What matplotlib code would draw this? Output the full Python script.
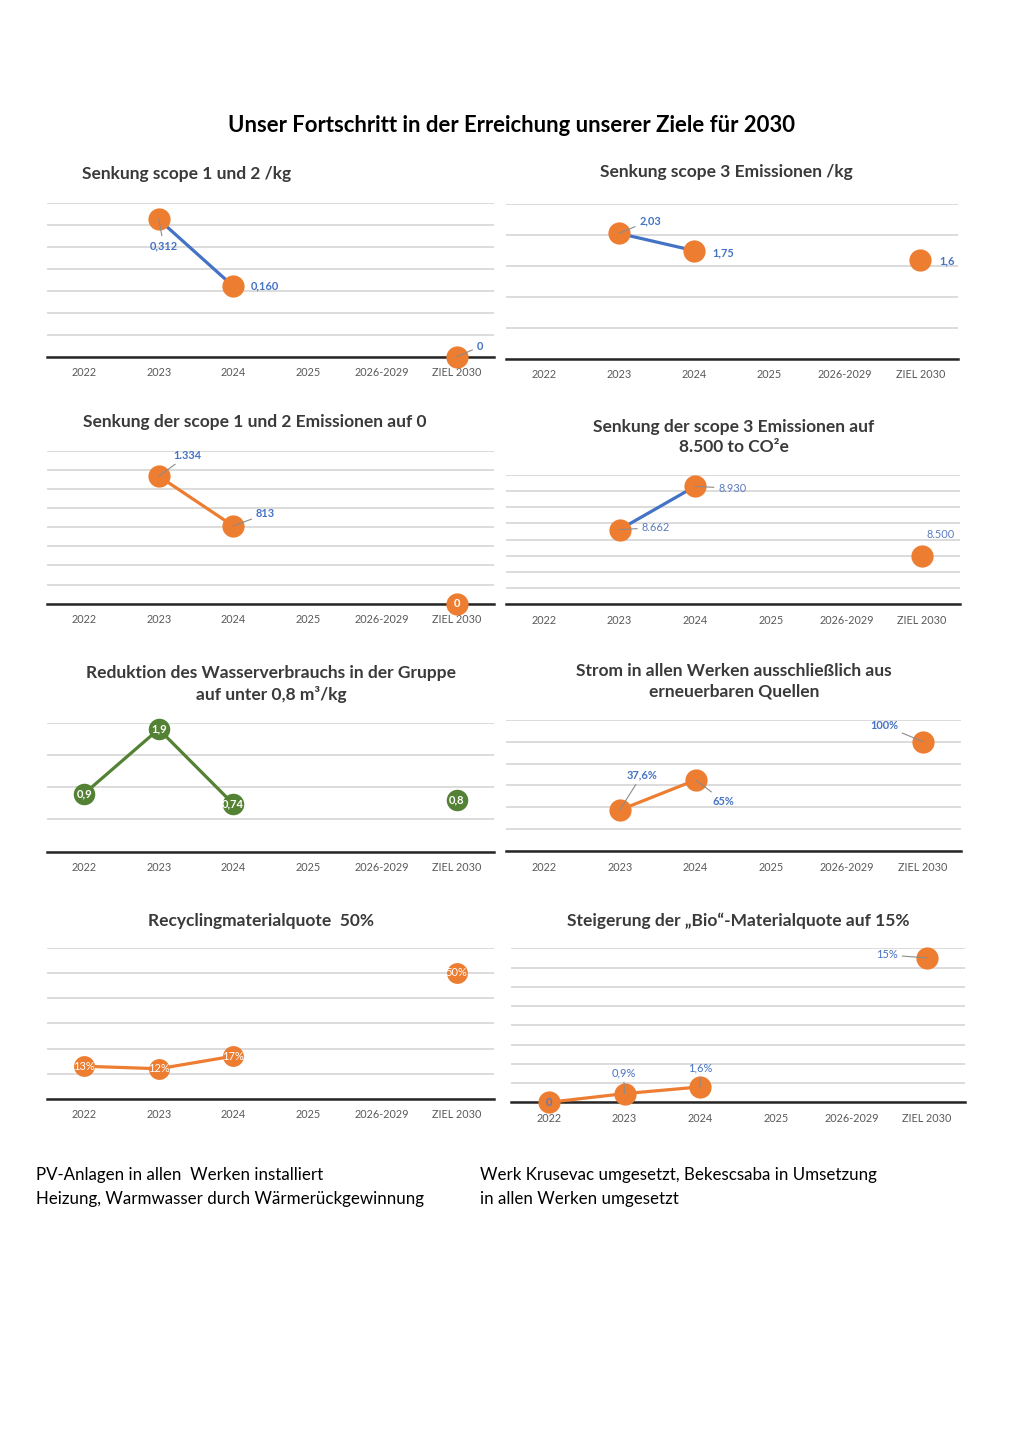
import matplotlib
matplotlib.use('Agg')
import matplotlib.pyplot as plt
import numpy as np

plt.rcParams['font.family'] = ['Lato', 'DejaVu Sans']

W, H = 1024, 1449
nan = np.nan

# ---------------- data ----------------
categories = ['2022', '2023', '2024', '2025', '2026-2029', 'ZIEL 2030']

scope12_kg = [nan, 0.312, 0.160, nan, nan, 0.0]
scope12_kg_labels = ['', '0,312', '0,160', '', '', '0']

scope3_kg = [nan, 2.03, 1.75, nan, nan, 1.6]
scope3_kg_labels = ['', '2,03', '1,75', '', '', '1,6']

scope12_abs = [nan, 1334, 813, nan, nan, 0]
scope12_abs_labels = ['', '1.334', '813', '', '', '0']

scope3_abs = [nan, 8662, 8930, nan, nan, 8500]
scope3_abs_labels = ['', '8.662', '8.930', '', '', '8.500']

water = [0.9, 1.9, 0.74, nan, nan, 0.8]
water_labels = ['0,9', '1,9', '0,74', '', '', '0,8']

green_power = [nan, 37.6, 65, nan, nan, 100]
green_power_labels = ['', '37,6%', '65%', '', '', '100%']

recycling = [13, 12, 17, nan, nan, 50]
recycling_labels = ['13%', '12%', '17%', '', '', '50%']

bio = [0, 0.9, 1.6, nan, nan, 15]
bio_labels = ['0', '0,9%', '1,6%', '', '', '15%']

main_title = 'Unser Fortschritt in der Erreichung unserer Ziele für 2030'
titles = [
    'Senkung scope 1 und 2 /kg',
    'Senkung scope 3 Emissionen /kg',
    'Senkung der scope 1 und 2 Emissionen auf 0',
    'Senkung der scope 3 Emissionen auf\n8.500 to CO²e',
    'Reduktion des Wasserverbrauchs in der Gruppe\nauf unter 0,8 m³/kg',
    'Strom in allen Werken ausschließlich aus\nerneuerbaren Quellen',
    'Recyclingmaterialquote  50%',
    'Steigerung der „Bio“-Materialquote auf 15%',
]
footer_left = ['PV-Anlagen in allen  Werken installiert',
               'Heizung, Warmwasser durch Wärmerückgewinnung']
footer_right = ['Werk Krusevac umgesetzt, Bekescsaba in Umsetzung',
                'in allen Werken umgesetzt']

# ---------------- styles ----------------
BLUE = '#4472C4'
ORANGE = '#ED7D31'
GREEN = '#548235'
GRID = '#D9D9D9'
TITLE_C = '#3A3A3A'
TICK_C = '#595959'
LEADER = '#8C8C8C'

fig = plt.figure(figsize=(W / 100, H / 100), dpi=100)
fig.patch.set_facecolor('white')

fig.text(512 / W, 1 - 125 / H, main_title, ha='center', va='center',
         fontsize=15.9, fontweight='bold', color='black')


def px_axes(x0, x1, ytop, ybase):
    return fig.add_axes([x0 / W, 1 - ybase / H, (x1 - x0) / W, (ybase - ytop) / H])


charts = [
    dict(v=scope12_kg, lab=scope12_kg_labels, box=(47, 494, 202.7, 356.7),
         ylim=(0, 0.35), step=0.05, lc=BLUE, mc=ORANGE, ms=16,
         offs={1: (5, -26, True), 2: (32, 0, False), 5: (23, 10, True)},
         inside={}, lstyle=dict(color=BLUE, fontweight='bold'),
         tpos=(187, 174)),
    dict(v=scope3_kg, lab=scope3_kg_labels, box=(506, 958, 204.3, 359),
         ylim=(0, 2.5), step=0.5, lc=BLUE, mc=ORANGE, ms=16,
         offs={1: (31, 13, True), 2: (29, -2, False), 5: (27, -1, False)},
         inside={}, lstyle=dict(color=BLUE, fontweight='bold'),
         tpos=(726, 172)),
    dict(v=scope12_abs, lab=scope12_abs_labels, box=(47, 494, 450.7, 603.7),
         ylim=(0, 1600), step=200, lc=ORANGE, mc=ORANGE, ms=16,
         offs={1: (29, 21, True), 2: (32, 12, True)},
         inside={5: ('white', 'bold')}, lstyle=dict(color=BLUE, fontweight='bold'),
         tpos=(255, 422)),
    dict(v=scope3_abs, lab=scope3_abs_labels, box=(506, 960, 475, 604.3),
         ylim=(8200, 9000), step=100, lc=BLUE, mc=ORANGE, ms=16,
         offs={1: (36, 2, True), 2: (37, -2, True), 5: (18, 21, False)},
         inside={}, lstyle=dict(color='#5B7BC0', fontweight='normal'),
         tpos=(734, 437)),
    dict(v=water, lab=water_labels, box=(47, 494, 722.7, 851.7),
         ylim=(0, 2.0), step=0.5, lc=GREEN, mc=GREEN, ms=15.5,
         offs={}, inside={0: ('white', 'bold'), 1: ('white', 'bold'),
                          2: ('white', 'bold'), 5: ('white', 'bold')},
         lstyle=dict(color=BLUE, fontweight='bold'),
         tpos=(271, 684)),
    dict(v=green_power, lab=green_power_labels, box=(506, 961, 719.7, 851.3),
         ylim=(0, 120), step=20, lc=ORANGE, mc=ORANGE, ms=16,
         offs={1: (22, 35, True), 2: (28, -21, True), 5: (-39, 16, True)},
         inside={}, lstyle=dict(color=BLUE, fontweight='bold'),
         tpos=(734, 681)),
    dict(v=recycling, lab=recycling_labels, box=(47, 494, 947.7, 1099),
         ylim=(0, 60), step=10, lc=ORANGE, mc=ORANGE, ms=15,
         offs={}, inside={0: ('white', 'normal'), 1: ('white', 'normal'),
                          2: ('white', 'normal'), 5: ('white', 'normal')},
         lstyle=dict(color=BLUE, fontweight='bold'),
         tpos=(261, 921)),
    dict(v=bio, lab=bio_labels, box=(511, 965, 948.3, 1102.3),
         ylim=(0, 16), step=2, lc=ORANGE, mc=ORANGE, ms=16,
         offs={1: (-1, 21, True), 2: (0, 19, True), 5: (-40, 3, True)},
         inside={0: ('#5B7BC0', 'bold')}, lstyle=dict(color=BLUE, fontweight='normal'),
         tpos=(738, 921)),
]

for ch, title in zip(charts, titles):
    ax = px_axes(*ch['box'])
    x = np.arange(len(categories))
    ymin, ymax = ch['ylim']
    ax.set_xlim(-0.5, len(categories) - 0.5)
    ax.set_ylim(ymin, ymax)
    ax.set_yticks(np.arange(ymin, ymax + ch['step'] / 2, ch['step']))
    ax.yaxis.grid(True, color=GRID, lw=1.3)
    ax.set_axisbelow(True)
    ax.tick_params(axis='y', length=0, labelleft=False)
    ax.set_xticks(x)
    ax.set_xticklabels(categories, fontsize=7.8, color=TICK_C)
    ax.tick_params(axis='x', length=0, pad=7.5)
    for s in ['left', 'right', 'top']:
        ax.spines[s].set_visible(False)
    ax.spines['bottom'].set_color('#262626')
    ax.spines['bottom'].set_linewidth(1.8)
    ax.spines['bottom'].set_zorder(2.5)
    ax.set_facecolor('none')

    vals = np.array(ch['v'], dtype=float)
    ax.plot(x, vals, color=ch['lc'], lw=2.3, zorder=3, clip_on=False,
            solid_capstyle='round')
    ax.plot(x, vals, 'o', color=ch['mc'], ms=ch['ms'], mew=0, zorder=4,
            clip_on=False)

    for i, lab in enumerate(ch['lab']):
        if not lab:
            continue
        if i in ch['inside']:
            col, wt = ch['inside'][i]
            ax.text(i, vals[i], lab, ha='center', va='center', color=col,
                    fontweight=wt, fontsize=8, zorder=6, clip_on=False)
        elif i in ch['offs']:
            dx, dy, leader = ch['offs'][i]
            kw = {}
            if leader:
                kw['arrowprops'] = dict(arrowstyle='-', color=LEADER, lw=0.8,
                                        shrinkA=1, shrinkB=0)
            ax.annotate(lab, xy=(i, vals[i]), xytext=(dx, dy),
                        textcoords='offset pixels', ha='center', va='center',
                        fontsize=7.9, zorder=5, annotation_clip=False,
                        **ch['lstyle'], **kw)

    tx, ty = ch['tpos']
    fig.text(tx / W, 1 - ty / H, title, ha='center', va='center',
             fontsize=12.5, fontweight='bold', color=TITLE_C, linespacing=1.35)

for k, line in enumerate(footer_left):
    fig.text(36 / W, 1 - (1175 + 24 * k) / H, line, ha='left', va='center',
             fontsize=12.2, color='black')
for k, line in enumerate(footer_right):
    fig.text(480 / W, 1 - (1175 + 24 * k) / H, line, ha='left', va='center',
             fontsize=12.2, color='black')

fig.savefig('out.png', dpi=100, facecolor='white')
